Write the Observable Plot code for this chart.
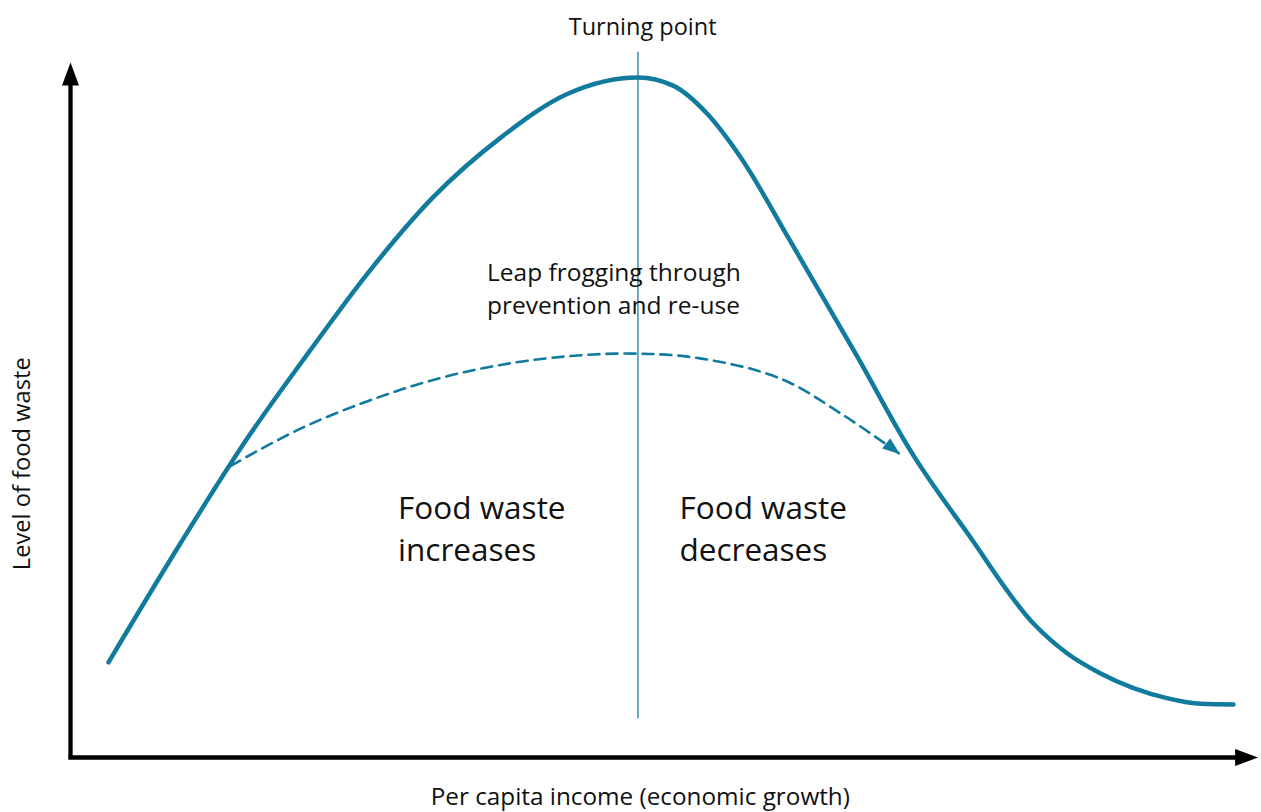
<!DOCTYPE html>
<html><head><meta charset="utf-8">
<script src="https://cdn.jsdelivr.net/npm/d3@7"></script>
<script src="https://cdn.jsdelivr.net/npm/@observablehq/plot@0.6"></script>
<style>body{margin:0;background:#fff}</style>
</head><body><div id="chart"></div>
<script>
// Main curve: level of food waste vs per capita income (conceptual units 0–100)
const incomeX = [3.25, 9.40, 15.1, 20.5, 25.4, 31.0, 36.8, 42.5, 48.5, 51.5, 54.4, 57.3, 61.5, 67.3, 71.8, 76.7, 82.3, 85.2, 88.0, 93.8, 96.6, 99.4];
const wasteY  = [14.0, 31.5, 46.9, 59.9, 71.2, 82.4, 91.2, 97.6, 100, 98.8, 94.7, 88.2, 76.0, 58.8, 45.1, 32.9, 19.7, 15.3, 12.4, 8.7, 7.9, 7.8];
// Dashed "leap frogging" path
const leapX = [13.7, 19.7, 26.2, 32.5, 39.3, 47.0, 53.8, 60.7, 66.1, 70.9];
const leapY = [42.9, 48.4, 52.9, 56.2, 58.4, 59.4, 58.7, 55.7, 50.3, 44.6];
// Turning point
const turningX = 48.5;
const turningSpan = [5.7, 103.7];
// Axis extents (arrow tips)
const axisTopY = 102.2;
const axisEndX = 101.5;
// Labels
const titleText = "Turning point";
const leapText = "Leap frogging through\nprevention and re-use";
const leftText = "Food waste\nincreases";
const rightText = "Food waste\ndecreases";
const xLabel = "Per capita income (economic growth)";
const yLabel = "Level of food waste";

const curve = incomeX.map((x, i) => ({x, y: wasteY[i]}));
const leap = leapX.map((x, i) => ({x, y: leapY[i]}));

const arrowHead = {
  draw(ctx, size) {
    const r = Math.sqrt(size / Math.PI);
    ctx.moveTo(0, 0);
    ctx.lineTo(-r, 2.7 * r);
    ctx.lineTo(r, 2.7 * r);
    ctx.closePath();
  }
};

const teal = "#107b9d";
const font = "'Open Sans', 'Noto Sans', sans-serif";

const chart = Plot.plot({
  width: 1261,
  height: 812,
  marginLeft: 70,
  marginRight: 21,
  marginTop: 77,
  marginBottom: 55,
  x: {domain: [0, 100], axis: null},
  y: {domain: [0, 100], axis: null},
  style: {fontFamily: font, background: "#fff", overflow: "visible"},
  marks: [
    // axes
    Plot.ruleX([0], {y1: 0, y2: 100, stroke: "#000", strokeWidth: 4.3}),
    Plot.ruleY([0], {x1: -0.15, x2: 100, stroke: "#000", strokeWidth: 4.3}),
    Plot.dot([0], {x: 0, y: axisTopY, symbol: arrowHead, r: 8.5, fill: "#000", stroke: null}),
    Plot.dot([0], {x: axisEndX, y: 0, symbol: arrowHead, r: 8.5, fill: "#000", stroke: null, rotate: 90}),
    // turning point line
    Plot.ruleX([turningX], {y1: turningSpan[0], y2: turningSpan[1], stroke: "#3a8db0", strokeWidth: 1.5}),
    // main curve
    Plot.line(curve, {x: "x", y: "y", stroke: teal, strokeWidth: 4.5, curve: "monotone-x", strokeLinecap: "round"}),
    // dashed leap path
    Plot.line(leap, {x: "x", y: "y", stroke: teal, strokeWidth: 2.6, strokeDasharray: "11,7", curve: "catmull-rom"}),
    Plot.dot([leap[leap.length - 1]], {x: "x", y: "y", symbol: arrowHead, r: 6.5, fill: teal, stroke: null, rotate: 128}),
    // texts
    Plot.text([titleText], {x: 48.9, y: 107.4, text: d => d, fontSize: 23.5, fill: "#111"}),
    Plot.text([leapText], {x: 35.6, y: 73.6, text: d => d, fontSize: 24.5, textAnchor: "start", lineAnchor: "top", lineHeight: 1.36, fill: "#111"}),
    Plot.text([leftText], {x: 28.0, y: 39.4, text: d => d, fontSize: 31.5, textAnchor: "start", lineAnchor: "top", lineHeight: 1.32, fill: "#111"}),
    Plot.text([rightText], {x: 52.05, y: 39.4, text: d => d, fontSize: 31.5, textAnchor: "start", lineAnchor: "top", lineHeight: 1.32, fill: "#111"}),
    Plot.text([xLabel], {x: 48.7, y: -5.9, text: d => d, fontSize: 24.3, fill: "#111"}),
    Plot.text([yLabel], {x: -4.1, y: 43.2, text: d => d, fontSize: 23.7, rotate: -90, fill: "#111"})
  ]
});
document.getElementById("chart").appendChild(chart);
</script>
</body></html>
